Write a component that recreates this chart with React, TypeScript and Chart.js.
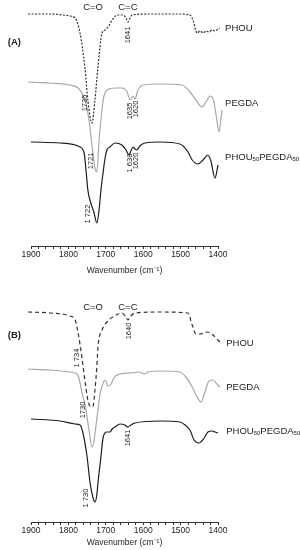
import React, { useEffect, useRef } from 'react';
import { Chart, registerables } from 'chart.js';
Chart.register(...registerables);

// ---------- Panel A data (wavenumber cm-1, relative transmittance a.u.) ----------
const A_PHOU_WN = [1908,1849,1796,1782,1769,1756,1748,1737,1729,1721,1710,1702,1694,1683,1670,1654,1646,1641,1635,1630,1582,1502,1475,1467,1456,1448,1440,1432,1424,1416,1408,1400,1395];
const A_PHOU_T = [232,232,230,228,213,179,146,123,146,179,213,216,219,226,231,231,228,224,228,231,232,232,231,226,213,215,213,215,214,216,215,217,218];

const A_PEGDA_WN = [1908,1849,1796,1774,1761,1753,1745,1737,1729,1724,1718,1713,1707,1697,1675,1657,1643,1635,1627,1622,1614,1600,1555,1496,1475,1459,1443,1432,1421,1413,1405,1397,1392,1389];
const A_PEGDA_T = [164,163,161,158,151,143,126,101,78,74,106,126,146,156,158,158,154,146,150,147,156,161,162,161,154,146,139,144,150,147,131,114,128,136];

const A_BLEND_WN = [1900,1822,1782,1769,1758,1753,1748,1740,1732,1724,1718,1713,1707,1702,1697,1689,1675,1657,1646,1638,1633,1627,1622,1617,1609,1595,1555,1502,1480,1469,1453,1440,1427,1419,1408,1400];
const A_BLEND_T = [104,103,101,99,93,76,56,43,34,23,36,56,74,88,96,99,103,101,96,91,95,99,97,96,100,103,104,102,94,86,82,86,91,85,68,81];

// ---------- Panel B data ----------
const B_PHOU_WN = [1908,1849,1796,1782,1774,1764,1756,1748,1740,1734,1729,1724,1721,1710,1697,1681,1657,1646,1641,1633,1622,1555,1480,1469,1459,1448,1429,1413,1403,1395];
const B_PHOU_T = [210,209,206,202,189,165,142,122,115,116,132,155,175,192,200,205,209,205,202,206,209,210,209,197,188,188,190,187,183,180];

const B_PEGDA_WN = [1908,1849,1796,1777,1772,1764,1753,1745,1737,1732,1726,1721,1716,1710,1702,1694,1686,1675,1635,1609,1598,1587,1555,1502,1486,1469,1456,1445,1435,1424,1413,1403,1395];
const B_PEGDA_T = [153,152,150,148,144,130,112,92,75,80,97,112,127,136,142,136,138,146,149,150,148,150,151,150,145,135,125,120,130,141,142,138,135];

const B_BLEND_WN = [1900,1822,1782,1769,1761,1750,1742,1734,1729,1724,1721,1713,1707,1697,1689,1683,1675,1662,1649,1641,1633,1622,1555,1502,1488,1475,1464,1451,1437,1427,1416,1408,1400];
const B_BLEND_T = [103,101,98,97,89,65,39,24,20,27,39,65,85,90,90,93,95,98,97,95,97,99,101,100,97,92,82,79,84,90,91,90,89];

const X_TICKS = [1900, 1800, 1700, 1600, 1500, 1400];
const X_TITLE = 'Wavenumber (cm\u207B\u00B9)';

type Ann = { text: string; wn: number; v: number; rot?: boolean; size?: number; bold?: boolean; align?: CanvasTextAlign; blend?: boolean };

const A_ANN: Ann[] = [
  { text: 'C=O', wn: 1734, v: 239, size: 9.5 },
  { text: 'C=C', wn: 1641, v: 239, size: 9.5 },
  { text: '1641', wn: 1641, v: 211, rot: true },
  { text: '1735', wn: 1756, v: 143, rot: true },
  { text: '1635', wn: 1635, v: 135, rot: true },
  { text: '1620', wn: 1619, v: 137, rot: true },
  { text: '1721', wn: 1740, v: 85, rot: true },
  { text: '1 638', wn: 1635, v: 83, rot: true },
  { text: '1620', wn: 1619, v: 85, rot: true },
  { text: '1 722', wn: 1748, v: 32, rot: true },
  { text: 'PHOU', wn: 1381, v: 218, size: 9.5, align: 'left' },
  { text: 'PEGDA', wn: 1381, v: 143, size: 9.5, align: 'left' },
  { text: '', wn: 1381, v: 89, blend: true },
  { text: '(A)', wn: 1962, v: 204, size: 9.5, bold: true, align: 'left' },
];

const B_ANN: Ann[] = [
  { text: 'C=O', wn: 1734, v: 215, size: 9.5 },
  { text: 'C=C', wn: 1641, v: 215, size: 9.5 },
  { text: '1640', wn: 1638, v: 191, rot: true },
  { text: '1 734', wn: 1777, v: 164, rot: true },
  { text: '1730', wn: 1761, v: 112, rot: true },
  { text: '1641', wn: 1641, v: 84, rot: true },
  { text: '1 730', wn: 1753, v: 24, rot: true },
  { text: 'PHOU', wn: 1378, v: 179, size: 9.5, align: 'left' },
  { text: 'PEGDA', wn: 1378, v: 135, size: 9.5, align: 'left' },
  { text: '', wn: 1378, v: 91, blend: true },
  { text: '(B)', wn: 1962, v: 187, size: 9.5, bold: true, align: 'left' },
];

const FONT = '"Liberation Sans", Arial, sans-serif';
const TEXT = '#222';

function zip(wn: number[], t: number[]) {
  return wn.map((x, i) => ({ x, y: t[i] }));
}

function annPlugin(anns: Ann[]) {
  return {
    id: 'ann',
    afterDatasetsDraw(chart: any) {
      const ctx = chart.ctx as CanvasRenderingContext2D;
      const xs = chart.scales.x;
      const ys = chart.scales.y;
      ctx.save();
      ctx.fillStyle = TEXT;
      for (const a of anns) {
        const px = xs.getPixelForValue(a.wn);
        const py = ys.getPixelForValue(a.v);
        const size = a.size ?? 7.5;
        if (a.blend) {
          ctx.textBaseline = 'middle';
          ctx.textAlign = 'left';
          let cx = px;
          const parts: [string, boolean][] = [['PHOU', false], ['50', true], ['PEGDA', false], ['50', true]];
          for (const [s, sub] of parts) {
            ctx.font = `${sub ? 6 : 9.5}px ${FONT}`;
            ctx.fillText(s, cx, sub ? py + 2.5 : py);
            cx += ctx.measureText(s).width;
          }
          continue;
        }
        ctx.font = `${a.bold ? 'bold ' : ''}${size}px ${FONT}`;
        ctx.textBaseline = 'middle';
        if (a.rot) {
          ctx.save();
          ctx.translate(px, py);
          ctx.rotate(-Math.PI / 2);
          ctx.textAlign = 'center';
          ctx.fillText(a.text, 0, 0);
          ctx.restore();
        } else {
          ctx.textAlign = a.align ?? 'center';
          ctx.fillText(a.text, px, py);
        }
      }
      ctx.restore();
    },
  };
}

function makeConfig(height: number, sets: any[], anns: Ann[], titlePadBottom: number) {
  return {
    type: 'line',
    data: { datasets: sets },
    options: {
      animation: false,
      responsive: false,
      devicePixelRatio: 1,
      events: [],
      layout: { padding: { left: 31, right: 82, top: 0, bottom: 0 } },
      plugins: { legend: { display: false }, tooltip: { enabled: false } },
      elements: { point: { radius: 0 } },
      scales: {
        x: {
          type: 'linear',
          min: 1400,
          max: 1900,
          reverse: true,
          afterFit: (s: any) => { s.height = height - 246; },
          ticks: {
            stepSize: 20,
            autoSkip: false,
            maxRotation: 0,
            padding: 1,
            color: TEXT,
            font: { family: FONT, size: 8.5 },
            callback: (v: number) => (X_TICKS.includes(v) ? String(v) : ''),
          },
          grid: { drawOnChartArea: false, drawTicks: true, tickLength: 3, color: '#333', lineWidth: 1 },
          border: { display: true, color: '#333', width: 1 },
          title: {
            display: true,
            text: X_TITLE,
            color: TEXT,
            font: { family: FONT, size: 8.5 },
            padding: { top: 0, bottom: titlePadBottom },
          },
        },
        y: { display: false, min: 0, max: 246 },
      },
    },
    plugins: [annPlugin(anns)],
  };
}

function ds(data: any[], color: string, dash: number[], width: number) {
  return {
    data,
    borderColor: color,
    borderWidth: width,
    borderDash: dash,
    fill: false,
    pointRadius: 0,
    cubicInterpolationMode: 'monotone',
    clip: false,
  };
}

function Panel({ height, sets, anns, pad }: { height: number; sets: any[]; anns: Ann[]; pad: number }) {
  const ref = useRef<HTMLCanvasElement | null>(null);
  useEffect(() => {
    if (!ref.current) return;
    const chart = new Chart(ref.current, makeConfig(height, sets, anns, pad) as any);
    return () => chart.destroy();
  }, []);
  return <canvas ref={ref} width={300} height={height} style={{ display: 'block', width: 300, height }} />;
}

export default function App() {
  const setsA = [
    ds(zip(A_PHOU_WN, A_PHOU_T), '#333', [2, 1.5], 1.2),
    ds(zip(A_PEGDA_WN, A_PEGDA_T), '#a8a8a8', [], 1.2),
    ds(zip(A_BLEND_WN, A_BLEND_T), '#1e1e1e', [], 1.2),
  ];
  const setsB = [
    ds(zip(B_PHOU_WN, B_PHOU_T), '#333', [4, 3], 1.2),
    ds(zip(B_PEGDA_WN, B_PEGDA_T), '#a8a8a8', [], 1.2),
    ds(zip(B_BLEND_WN, B_BLEND_T), '#1e1e1e', [], 1.2),
  ];
  return (
    <div style={{ position: 'absolute', left: 0, top: 0, width: 300, height: 550, background: '#fff' }}>
      <Panel height={276} sets={setsA} anns={A_ANN} pad={0} />
      <Panel height={274} sets={setsB} anns={B_ANN} pad={2} />
    </div>
  );
}
